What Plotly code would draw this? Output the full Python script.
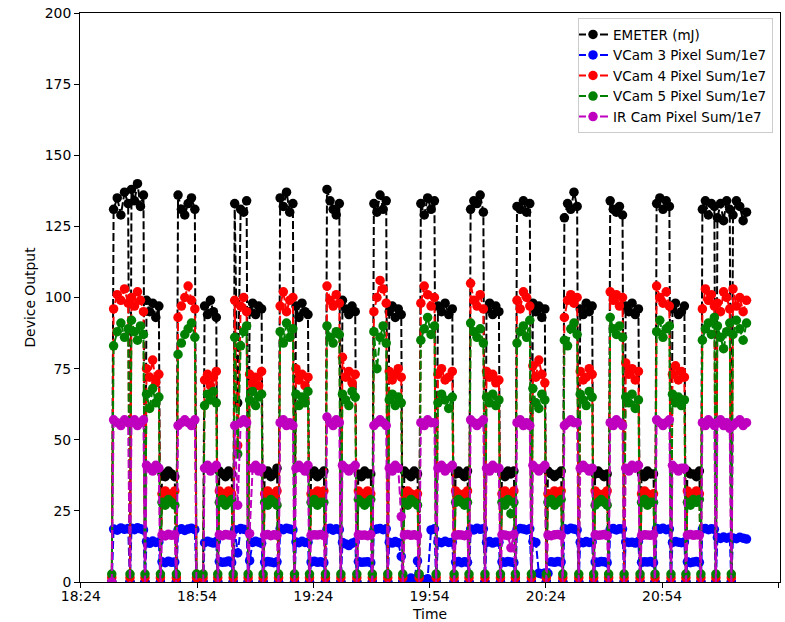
import plotly.graph_objects as go
from datetime import datetime

DAY = "2019-06-01 "

# Start / end of each laser burst (zero samples are logged at the burst edges)
seg_start = ["18:31:59", "18:36:41", "18:40:33", "18:44:32", "18:48:39", "18:55:33", "18:59:20", "19:03:19",
             "19:07:10", "19:11:02", "19:15:01", "19:19:08", "19:23:00", "19:27:07", "19:31:06", "19:35:13",
             "19:39:13", "19:43:12", "19:47:04", "19:51:18", "19:55:41", "20:00:19", "20:04:10", "20:08:17",
             "20:12:17", "20:16:08", "20:20:16", "20:24:07", "20:28:22", "20:32:29", "20:36:20", "20:40:12",
             "20:44:11", "20:48:18", "20:52:10", "20:56:17", "21:00:08", "21:04:00", "21:07:52", "21:11:51"]
seg_end = ["18:36:41", "18:40:33", "18:44:32", "18:48:39", "18:53:51", "18:59:20", "19:03:19", "19:07:10",
           "19:11:02", "19:15:01", "19:19:08", "19:23:00", "19:27:07", "19:31:06", "19:35:13", "19:39:13",
           "19:43:12", "19:47:04", "19:51:18", "19:55:41", "20:00:19", "20:04:10", "20:08:17", "20:12:17",
           "20:16:08", "20:20:16", "20:24:07", "20:28:22", "20:32:29", "20:36:20", "20:40:12", "20:44:11",
           "20:48:18", "20:52:10", "20:56:17", "21:00:08", "21:04:00", "21:07:52", "21:11:51", "21:16:13"]

emeter = [
    [131, 135, 129, 137, 133], [138, 134, 140, 132, 136], [99, 95, 98, 93, 97], [38, 37, 39, 38, 37],
    [136, 131, 129, 133, 135, 131], [97, 94, 99, 95, 93], [39, 38, 37, 39, 38], [133, 63, 131, 130, 134],
    [95, 98, 94, 97, 96], [38, 39, 37, 38, 40], [135, 132, 137, 130, 133], [97, 93, 98, 95, 94],
    [38, 39, 37, 38, 39], [138, 134, 131, 129, 133], [99, 96, 94, 97, 95], [38, 37, 39, 38, 38],
    [133, 130, 136, 131, 134], [95, 97, 93, 96, 94], [39, 38, 37, 39, 38], [133, 129, 135, 131, 134],
    [97, 95, 98, 94, 96], [38, 39, 38, 37, 39], [131, 134, 133, 136, 130], [96, 98, 94, 97, 95],
    [38, 37, 39, 38, 39], [132, 131, 134, 130, 133], [98, 95, 97, 93, 96], [39, 38, 37, 38, 39],
    [128, 133, 131, 137, 132], [96, 94, 98, 95, 97], [38, 39, 38, 37, 38], [134, 131, 130, 132, 129],
    [97, 95, 98, 94, 96], [38, 37, 39, 38, 38], [133, 135, 131, 134, 132], [96, 98, 94, 95, 97],
    [39, 38, 38, 37, 39], [131, 134, 129, 133, 132], [128, 133, 127, 134, 131], [129, 134, 132, 127, 130]]

vcam3 = [
    [18.6, 18.2, 19.0, 18.5, 18.8], [18.9, 18.4, 19.1, 18.7, 18.3], [14.2, 13.6, 14.4, 13.9, 14.1],
    [7.1, 6.8, 7.3, 6.9, 7.0], [18.3, 18.7, 18.1, 18.6, 18.9, 18.4], [13.8, 14.3, 14.0, 13.7, 14.2],
    [7.2, 6.9, 7.0, 7.4, 6.8], [18.4, 10.2, 18.8, 18.5, 18.2], [7.5, 13.9, 14.3, 14.0, 13.6],
    [6.9, 7.2, 7.0, 6.8, 7.1], [18.8, 18.4, 18.9, 18.6, 18.3], [14.1, 13.8, 14.3, 13.9, 14.0],
    [7.0, 7.3, 6.9, 7.1, 6.8], [18.5, 18.9, 18.2, 18.7, 18.4], [13.9, 13.4, 12.8, 13.6, 14.1],
    [7.2, 6.9, 7.0, 7.1, 6.8], [18.3, 18.6, 18.8, 18.4, 18.7], [14.0, 13.7, 14.2, 13.8, 9.0],
    [1.2, 0.9, 1.4, 1.0, 7.4], [1.2, 0.8, 1.1, 18.3, 18.7], [14.1, 13.8, 14.3, 13.9, 14.0],
    [7.0, 7.2, 6.8, 7.1, 6.9], [18.6, 18.3, 18.9, 18.5, 18.7], [13.9, 14.2, 13.7, 14.1, 14.0],
    [7.1, 6.9, 7.2, 7.0, 6.8], [18.4, 18.8, 18.6, 18.3, 18.7], [14.2, 13.9, 3.1, 2.8, 3.2],
    [3.0, 7.1, 6.9, 7.2, 7.0], [18.7, 18.4, 18.9, 18.6, 18.3], [14.0, 13.8, 14.2, 13.9, 14.1],
    [7.0, 6.9, 7.2, 7.1, 6.8], [18.5, 18.8, 18.3, 18.7, 18.6], [14.1, 13.9, 14.0, 13.7, 14.2],
    [6.9, 7.1, 7.0, 7.2, 6.8], [18.8, 18.5, 18.9, 18.4, 18.6], [13.9, 14.2, 14.0, 13.8, 14.1],
    [7.1, 6.8, 7.0, 7.2, 6.9], [18.6, 18.8, 18.4, 18.7, 18.5], [15.6, 15.3, 15.8, 15.4, 15.7],
    [15.5, 15.2, 15.7, 15.4, 15.1]]

vcam4 = [
    [96, 101, 99, 103, 98], [100, 97, 102, 99, 95], [75, 72, 78, 70, 73], [31, 32, 30, 31, 32],
    [93, 97, 100, 104, 99, 96], [71, 73, 69, 72, 74], [32, 31, 30, 32, 31], [99, 48, 97, 100, 95],
    [73, 70, 72, 69, 74], [31, 32, 31, 30, 32], [97, 102, 95, 99, 100], [75, 71, 73, 69, 72],
    [31, 30, 32, 31, 32], [104, 99, 97, 101, 98], [79, 72, 74, 70, 73], [32, 31, 30, 32, 31],
    [95, 100, 106, 103, 98], [74, 71, 73, 75, 72], [31, 32, 31, 30, 31], [98, 104, 101, 97, 100],
    [73, 75, 71, 72, 74], [32, 31, 30, 31, 32], [105, 99, 97, 101, 96], [74, 72, 73, 70, 71],
    [31, 32, 31, 30, 32], [99, 96, 102, 100, 97], [76, 72, 78, 73, 70], [31, 30, 32, 31, 32],
    [93, 99, 101, 98, 100], [74, 71, 72, 75, 73], [32, 31, 30, 31, 32], [102, 99, 101, 97, 100],
    [77, 73, 75, 71, 74], [31, 32, 31, 30, 31], [104, 100, 98, 102, 97], [73, 76, 71, 74, 72],
    [32, 31, 30, 32, 31], [96, 103, 99, 101, 97], [98, 95, 102, 100, 96], [103, 97, 100, 95, 99]]

vcam5 = [
    [83, 88, 91, 86, 89], [92, 88, 85, 90, 87], [66, 61, 68, 63, 65], [28, 27, 29, 28, 27],
    [80, 84, 87, 89, 91, 86], [62, 66, 64, 67, 63], [28, 29, 27, 28, 29], [86, 45, 83, 88, 90],
    [64, 67, 62, 65, 66], [28, 27, 29, 28, 27], [88, 84, 91, 86, 89], [66, 62, 65, 63, 67],
    [28, 29, 27, 28, 28], [90, 86, 84, 88, 87], [66, 64, 62, 67, 65], [29, 28, 27, 28, 29],
    [88, 75, 86, 90, 84], [64, 66, 62, 65, 63], [28, 27, 29, 28, 27], [85, 89, 93, 87, 90],
    [63, 66, 64, 61, 65], [28, 29, 28, 27, 28], [91, 88, 86, 89, 84], [65, 63, 66, 62, 64],
    [28, 27, 29, 24, 28], [84, 88, 90, 86, 92], [68, 63, 61, 66, 64], [28, 29, 27, 28, 29],
    [85, 83, 89, 91, 87], [66, 64, 62, 67, 65], [27, 28, 29, 28, 27], [93, 89, 87, 90, 86],
    [65, 63, 66, 61, 64], [28, 29, 27, 28, 28], [88, 92, 86, 89, 90], [66, 63, 65, 62, 64],
    [28, 27, 29, 28, 29], [85, 89, 91, 87, 93], [90, 86, 82, 88, 91], [87, 92, 89, 85, 91]]

ircam = [
    [57, 56, 55, 57, 56], [56, 57, 55, 56, 57], [41, 40, 39, 41, 40], [16.5, 16.2, 16.8, 16.4, 16.6],
    [55, 56, 57, 56, 55, 57], [40, 41, 39, 40, 41], [16.6, 16.3, 16.7, 16.5, 16.4], [55, 27, 56, 57, 56],
    [17, 40, 41, 39, 40], [16.5, 16.7, 16.3, 16.6, 16.4], [56, 57, 55, 56, 55], [40, 41, 40, 39, 41],
    [16.4, 16.6, 16.5, 16.7, 16.3], [58, 56, 55, 57, 56], [41, 40, 39, 40, 41], [16.6, 16.4, 16.5, 16.3, 16.7],
    [55, 56, 57, 56, 55], [40, 39, 41, 40, 23], [16.5, 16.7, 16.4, 16.6, 16.3], [56, 55, 57, 56, 56],
    [40, 41, 39, 40, 41], [16.4, 16.6, 16.5, 16.3, 16.7], [57, 56, 55, 56, 57], [40, 39, 41, 40, 40],
    [16.6, 16.5, 16.3, 12, 16.7], [56, 57, 55, 56, 55], [41, 40, 39, 40, 41], [16.5, 16.3, 16.6, 16.7, 16.4],
    [55, 56, 57, 56, 56], [40, 41, 40, 39, 40], [16.6, 16.4, 16.5, 16.7, 16.3], [56, 55, 57, 56, 55],
    [40, 39, 41, 40, 41], [16.3, 16.6, 16.5, 16.4, 16.7], [57, 56, 55, 56, 57], [41, 40, 39, 40, 40],
    [16.5, 16.7, 16.4, 16.6, 16.5], [56, 55, 57, 56, 55], [56, 57, 55, 56, 54], [55, 56, 57, 55, 56]]

# Values logged between bursts (IR camera background sits just below zero after the first sample)
off_level = {"EMETER (mJ)": 0.0, "VCam 3 Pixel Sum/1e7": 0.0, "VCam 4 Pixel Sum/1e7": 1.5,
             "VCam 5 Pixel Sum/1e7": 2.8, "IR Cam Pixel Sum/1e7": -3.0}
ir_first_off = 0.0

names = ["EMETER (mJ)", "VCam 3 Pixel Sum/1e7", "VCam 4 Pixel Sum/1e7", "VCam 5 Pixel Sum/1e7",
         "IR Cam Pixel Sum/1e7"]
colors = ["#000000", "#0000ff", "#ff0000", "#008000", "#bf00bf"]
series = [emeter, vcam3, vcam4, vcam5, ircam]


def ts(s):
    return datetime.strptime(DAY + s, "%Y-%m-%d %H:%M:%S")


def build(name, segs):
    xs, ys = [], []
    n_seg = len(seg_start)
    for i in range(n_seg):
        t0, t1 = ts(seg_start[i]), ts(seg_end[i])
        off = off_level[name]
        if name.startswith("IR") and i == 0:
            off = ir_first_off
        xs.append(t0)
        ys.append(off)
        vals = segs[i]
        n = len(vals)
        for k, v in enumerate(vals):
            xs.append(t0 + (t1 - t0) * ((k + 0.5) / n))
            ys.append(v)
        if i + 1 < n_seg and seg_start[i + 1] != seg_end[i]:
            xs.append(t1)
            ys.append(off_level[name])
    return xs, ys


fig = go.Figure()
for name, col, segs in zip(names, colors, series):
    xs, ys = build(name, segs)
    fig.add_trace(go.Scatter(
        x=xs, y=ys, mode="lines+markers", name=name,
        line=dict(color=col, width=2, dash="8px,3px"),
        marker=dict(color=col, size=9.5, symbol="circle"),
    ))

FONT = dict(family="DejaVu Sans", size=13.9, color="#000000")
LEG_FONT = dict(family="DejaVu Sans", size=13.5, color="#000000")

fig.update_layout(
    width=785, height=622,
    margin=dict(l=80, r=5, t=13, b=40, autoexpand=False),
    paper_bgcolor="white", plot_bgcolor="white",
    font=FONT,
    showlegend=True,
    legend=dict(x=0.99, y=0.991, xanchor="right", yanchor="top",
                bgcolor="rgba(255,255,255,0.8)", bordercolor="#cccccc", borderwidth=1,
                font=LEG_FONT, tracegroupgap=0, itemwidth=30, indentation=-6),
)
fig.update_xaxes(
    type="date", automargin=False,
    range=[ts("18:23:47"), ts("21:24:25")],
    tick0=ts("18:24:00"), dtick=30 * 60 * 1000, tickformat="%H:%M",
    showgrid=False, zeroline=False,
    showline=True, linecolor="#000000", linewidth=1, mirror=True,
    ticks="outside", ticklen=5, tickcolor="#000000", ticklabelstandoff=-4,
    title=dict(text="Time", font=FONT, standoff=11),
)
fig.update_yaxes(
    range=[0, 200], tick0=0, dtick=25, automargin=False,
    showgrid=False, zeroline=False,
    showline=True, linecolor="#000000", linewidth=1, mirror=True,
    ticks="outside", ticklen=5, tickcolor="#000000",
    title=dict(text="Device Output", font=FONT, standoff=5),
)

fig.write_html("out.html")
